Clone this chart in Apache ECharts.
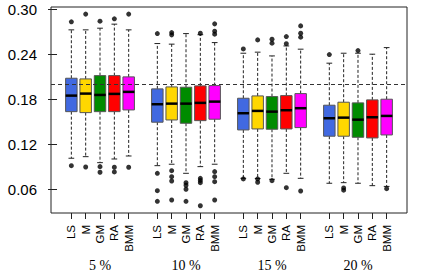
<!DOCTYPE html>
<html>
<head>
<meta charset="utf-8">
<script src="https://cdn.jsdelivr.net/npm/echarts@6/dist/echarts.min.js"></script>
<style>html,body{margin:0;padding:0;background:#fff;}#c{width:422px;height:273px;}</style>
</head>
<body>
<div id="c"></div>
<script>
// ---- data ----
const groups = ['5 %', '10 %', '15 %', '20 %'];
const methods = ['LS', 'M', 'GM', 'RA', 'BMM'];
const yTicks = [0.06, 0.12, 0.18, 0.24, 0.30];
const refLine = 0.20;

// each row: [lower whisker, Q1, median, Q3, upper whisker], order LS, M, GM, RA, BMM
const stats5 = [
  [0.1011, 0.1633, 0.1847, 0.2079, 0.2725],
  [0.1032, 0.1620, 0.1874, 0.2070, 0.2725],
  [0.0952, 0.1633, 0.1856, 0.2114, 0.2747],
  [0.1001, 0.1633, 0.1870, 0.2114, 0.2801],
  [0.1041, 0.1656, 0.1897, 0.2097, 0.2725]
];
const stats10 = [
  [0.0912, 0.1492, 0.1732, 0.1937, 0.2542],
  [0.0931, 0.1522, 0.1740, 0.1963, 0.2534],
  [0.0810, 0.1478, 0.1740, 0.1959, 0.2675],
  [0.0899, 0.1513, 0.1750, 0.1977, 0.2660],
  [0.0931, 0.1532, 0.1767, 0.1981, 0.2555]
];
const stats15 = [
  [0.0743, 0.1389, 0.1612, 0.1812, 0.2413],
  [0.0740, 0.1402, 0.1643, 0.1843, 0.2427],
  [0.0730, 0.1398, 0.1633, 0.1834, 0.2377],
  [0.0810, 0.1402, 0.1652, 0.1847, 0.2510],
  [0.0743, 0.1420, 0.1679, 0.1874, 0.2467]
];
const stats20 = [
  [0.0677, 0.1305, 0.1545, 0.1719, 0.2280],
  [0.0685, 0.1305, 0.1553, 0.1759, 0.2413],
  [0.0677, 0.1291, 0.1526, 0.1750, 0.2413],
  [0.0645, 0.1282, 0.1558, 0.1790, 0.2400],
  [0.0635, 0.1322, 0.1576, 0.1799, 0.2488]
];
// outliers per box, order LS, M, GM, RA, BMM
const out5 = [
  [0.2832, 0.0912],
  [0.2935, 0.0894],
  [0.2841, 0.0899, 0.0824],
  [0.2872, 0.0891, 0.0828],
  [0.2935, 0.0891]
];
const out10 = [
  [0.2675, 0.0810, 0.0578, 0.0436],
  [0.2689, 0.2658, 0.0845, 0.0765, 0.0707, 0.0454],
  [0.0685, 0.0650, 0.0597, 0.0436],
  [0.2680, 0.0743, 0.0715, 0.0685, 0.0377],
  [0.2805, 0.2707, 0.2667, 0.0832, 0.0765, 0.0698, 0.0454]
];
const out15 = [
  [0.2470, 0.0735],
  [0.2591, 0.0735, 0.0690],
  [0.2600, 0.2547, 0.0712],
  [0.2635, 0.2540, 0.0618],
  [0.2778, 0.2680, 0.2627, 0.0574]
];
const out20 = [
  [0.2395],
  [0.0615, 0.0585],
  [0.2448],
  [],
  [0.0605]
];
const allStats = [stats5, stats10, stats15, stats20];
const allOut = [out5, out10, out15, out20];

const colors = ['#4169E1', '#FFD700', '#008B00', '#FF0000', '#FF00FF'];

// ---- build ----
const pos = (g, m) => g * 6 + m + 1;
const boxData = [], outData = [], tickPos = [], tickName = {};
allStats.forEach((st, g) => st.forEach((r, m) => {
  const p = pos(g, m);
  boxData.push([p, r[0], r[1], r[2], r[3], r[4], m]);
  tickPos.push(p); tickName[p] = methods[m];
  allOut[g][m].forEach(v => outData.push([p, v]));
}));
const groupPos = groups.map((_, g) => pos(g, 2));

const chart = echarts.init(document.getElementById('c'), null, {renderer: 'svg'});
const lineCol = '#222';
chart.setOption({
  animation: false,
  grid: {left: 51, right: 15, top: 7, bottom: 60, show: true, borderColor: lineCol, borderWidth: 1, backgroundColor: 'transparent'},
  xAxis: [{
    type: 'value', min: -0.42, max: 24.42,
    axisLine: {show: false},
    splitLine: {show: false},
    axisTick: {show: true, customValues: tickPos, length: 6, lineStyle: {color: lineCol}},
    axisLabel: {show: true, customValues: tickPos, rotate: 90, margin: 12,
      formatter: v => tickName[Math.round(v)] || '',
      fontFamily: 'Liberation Sans', fontSize: 11.5, color: '#000'}
  }, {
    type: 'value', min: -0.42, max: 24.42, position: 'bottom',
    axisLine: {show: false}, splitLine: {show: false}, axisTick: {show: false},
    axisLabel: {show: true, customValues: groupPos, margin: 45,
      formatter: v => groups[Math.round((v - 3) / 6)],
      fontFamily: 'Liberation Serif', fontSize: 14, color: '#000'}
  }],
  yAxis: {
    type: 'value', min: 0.028, max: 0.303,
    axisLine: {show: false}, splitLine: {show: false},
    axisTick: {show: true, customValues: yTicks, length: 9, lineStyle: {color: lineCol}},
    axisLabel: {show: true, customValues: yTicks, margin: 14,
      formatter: v => v.toFixed(2),
      fontFamily: 'Liberation Sans', fontSize: 15, color: '#000'}
  },
  series: [{
    type: 'custom',
    data: boxData,
    encode: {x: 0, y: [1, 2, 3, 4, 5]},
    renderItem: function (params, api) {
      const x = api.value(0);
      const c = colors[api.value(6)];
      const pLw = api.coord([x, api.value(1)]);
      const pQ1 = api.coord([x, api.value(2)]);
      const pMd = api.coord([x, api.value(3)]);
      const pQ3 = api.coord([x, api.value(4)]);
      const pUw = api.coord([x, api.value(5)]);
      const w = api.size([0.8, 0])[0];
      const cx = pQ1[0];
      const dash = {stroke: '#222', lineWidth: 1, lineDash: [3, 2]};
      const solid = {stroke: '#222', lineWidth: 1};
      return {type: 'group', children: [
        {type: 'line', shape: {x1: cx, y1: pQ3[1], x2: cx, y2: pUw[1]}, style: dash},
        {type: 'line', shape: {x1: cx, y1: pQ1[1], x2: cx, y2: pLw[1]}, style: dash},
        {type: 'line', shape: {x1: cx - w / 4, y1: pUw[1], x2: cx + w / 4, y2: pUw[1]}, style: solid},
        {type: 'line', shape: {x1: cx - w / 4, y1: pLw[1], x2: cx + w / 4, y2: pLw[1]}, style: solid},
        {type: 'rect', shape: {x: cx - w / 2, y: pQ3[1], width: w, height: pQ1[1] - pQ3[1]},
          style: {fill: c, stroke: '#555', lineWidth: 1}},
        {type: 'line', shape: {x1: cx - w / 2, y1: pMd[1], x2: cx + w / 2, y2: pMd[1]},
          style: {stroke: '#000', lineWidth: 2.5}}
      ]};
    },
    z: 2
  }, {
    type: 'scatter',
    data: outData,
    symbol: 'circle', symbolSize: 5,
    itemStyle: {color: '#000'},
    z: 3,
    markLine: {
      silent: true, symbol: 'none', animation: false,
      label: {show: false},
      lineStyle: {color: '#333', width: 1, type: [4, 3]},
      data: [{yAxis: refLine}]
    }
  }]
});
</script>
</body>
</html>
